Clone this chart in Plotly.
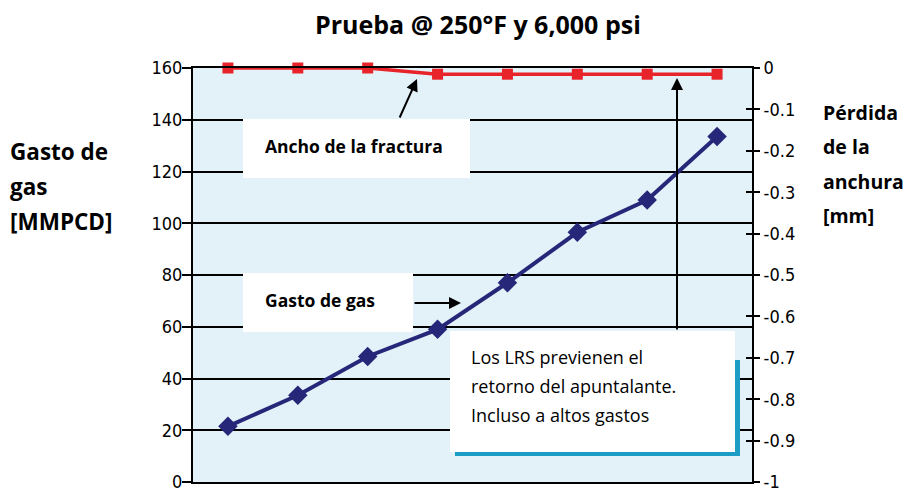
import plotly.graph_objects as go

# ---------------- data ----------------
points = [1, 2, 3, 4, 5, 6, 7, 8]
gas_rate = [21.5, 33.5, 48.5, 59, 77, 96.5, 109, 133.5]          # MMPCD (left axis)
width_loss = [0, 0, 0, -0.015, -0.015, -0.015, -0.015, -0.015]    # mm (right axis)
left_ticks = [0, 20, 40, 60, 80, 100, 120, 140, 160]
right_tickvals = [0, -0.1, -0.2, -0.3, -0.4, -0.5, -0.6, -0.7, -0.8, -0.9, -1]
right_ticktext = ["0", "-0.1", "-0.2", "-0.3", "-0.4", "-0.5", "-0.6", "-0.7", "-0.8", "-0.9", "-1"]

title_text = "Prueba @ 250°F y 6,000 psi"
left_title = ["Gasto de", "gas", "[MMPCD]"]
right_title = ["Pérdida", "de la", "anchura", "[mm]"]
note_lines = ["Los LRS previenen el", "retorno del apuntalante.", "Incluso a altos gastos"]

# ---------------- layout helpers (page pixel -> paper) ----------------
W, H = 905, 489
L, R, T, B = 193, 752, 68, 482   # plot area in page pixels
def px(x):
    return (x - L) / (R - L)
def py(y):
    return (B - y) / (B - T)

NARROW = "DejaVu Sans Condensed, Liberation Sans Narrow, Liberation Sans, sans-serif"
TXT = "Open Sans, sans-serif"

fig = go.Figure()
fig.add_trace(go.Scatter(
    x=points, y=gas_rate, mode="lines+markers", yaxis="y",
    line=dict(color="#27277a", width=4),
    marker=dict(symbol="diamond", size=15, color="#27277a"),
    showlegend=False, cliponaxis=False))
fig.add_trace(go.Scatter(
    x=points, y=width_loss, mode="lines+markers", yaxis="y2",
    line=dict(color="#e8232a", width=3.5),
    marker=dict(symbol="square", size=11, color="#e8232a"),
    showlegend=False, cliponaxis=False))
fig.add_trace(go.Scatter(x=[points[0]], y=[right_tickvals[0]], yaxis="y3",
                         mode="markers", marker=dict(opacity=0), showlegend=False,
                         hoverinfo="skip"))

shapes = [
    dict(type="rect", xref="paper", yref="paper", x0=px(243), x1=px(470), y0=py(178), y1=py(119),
         fillcolor="white", line=dict(width=0), layer="above"),
    dict(type="rect", xref="paper", yref="paper", x0=px(243), x1=px(413), y0=py(332), y1=py(273),
         fillcolor="white", line=dict(width=0), layer="above"),
    dict(type="rect", xref="paper", yref="paper", x0=px(455), x1=px(740), y0=py(456), y1=py(360),
         fillcolor="#1b9dc6", line=dict(width=0), layer="above"),
    dict(type="rect", xref="paper", yref="paper", x0=px(450), x1=px(735), y0=py(452), y1=py(331),
         fillcolor="white", line=dict(width=0), layer="above"),
]

ann = []
ann.append(dict(text="<b>" + title_text + "</b>", xref="paper", yref="paper",
                x=px(478), y=py(24), showarrow=False, xanchor="center", yanchor="middle",
                font=dict(family=TXT, size=25, color="black")))
for i, t in enumerate(left_title):
    ann.append(dict(text="<b>" + t + "</b>", xref="paper", yref="paper",
                    x=px(8), y=py(151 + 35 * i), showarrow=False, xanchor="left", yanchor="middle",
                    font=dict(family=TXT, size=22.5, color="black")))
for i, t in enumerate(right_title):
    ann.append(dict(text="<b>" + t + "</b>", xref="paper", yref="paper",
                    x=px(821), y=py(112 + 34.5 * i), showarrow=False, xanchor="left", yanchor="middle",
                    font=dict(family=TXT, size=19.5, color="black")))
ann.append(dict(text="<b>Ancho de la fractura</b>", xref="paper", yref="paper",
                x=px(263), y=py(146), showarrow=False, xanchor="left", yanchor="middle",
                font=dict(family=TXT, size=17.5, color="black")))
ann.append(dict(text="<b>Gasto de gas</b>", xref="paper", yref="paper",
                x=px(263), y=py(300), showarrow=False, xanchor="left", yanchor="middle",
                font=dict(family=TXT, size=17.5, color="black")))
for i, t in enumerate(note_lines):
    ann.append(dict(text=t, xref="paper", yref="paper",
                    x=px(469), y=py(357 + 29 * i), showarrow=False, xanchor="left", yanchor="middle",
                    font=dict(family=TXT, size=18, color="black")))
def arrow(x0, y0, x1, y1):
    return dict(text="", xref="x domain", yref="y domain", axref="x domain", ayref="y domain",
                x=px(x1), y=py(y1), ax=px(x0), ay=py(y0), showarrow=True,
                arrowhead=2, arrowsize=1.2, arrowwidth=2, arrowcolor="black")
ann.append(arrow(399, 119, 417, 79))
ann.append(arrow(413, 303, 461, 303))
ann.append(arrow(677, 331, 677, 78))

fig.update_layout(
    width=W, height=H,
    margin=dict(l=L, r=W - R, t=T, b=H - B, pad=0, autoexpand=False),
    paper_bgcolor="white", plot_bgcolor="#e3f1f8",
    xaxis=dict(range=[0.5, 8.5], showgrid=False, zeroline=False, showticklabels=False,
               ticks="", showline=True, mirror=True, linecolor="black", linewidth=2,
               automargin=False),
    yaxis=dict(range=[0, 160], tickvals=left_ticks, showgrid=True, gridcolor="black", gridwidth=2,
               zeroline=False, ticks="outside", ticklen=9, tickwidth=2, tickcolor="black",
               showline=True, linecolor="black", linewidth=2, ticklabelstandoff=-4,
               ticklabeloverflow="allow", automargin=False,
               tickfont=dict(family=NARROW, size=18, color="black")),
    yaxis2=dict(range=[-1, 0], overlaying="y", side="right", anchor="x",
                tickvals=right_tickvals, ticktext=right_ticktext, showgrid=False, zeroline=False,
                ticks="outside", ticklen=6, tickwidth=2, tickcolor="black",
                showline=True, linecolor="black", linewidth=2, ticklabeloverflow="allow",
                automargin=False,
                tickfont=dict(family=NARROW, size=18, color="black")),
    yaxis3=dict(range=[-1, 0], overlaying="y", side="right", anchor="x",
                tickvals=right_tickvals[1:-1], showgrid=False, zeroline=False, showticklabels=False,
                ticks="inside", ticklen=6, tickwidth=2, tickcolor="black", showline=False,
                automargin=False),
    shapes=shapes, annotations=ann,
)
fig.write_html("out.html", config={"displayModeBar": False},
               post_script="document.body.style.margin='0';document.body.style.overflow='hidden';")
